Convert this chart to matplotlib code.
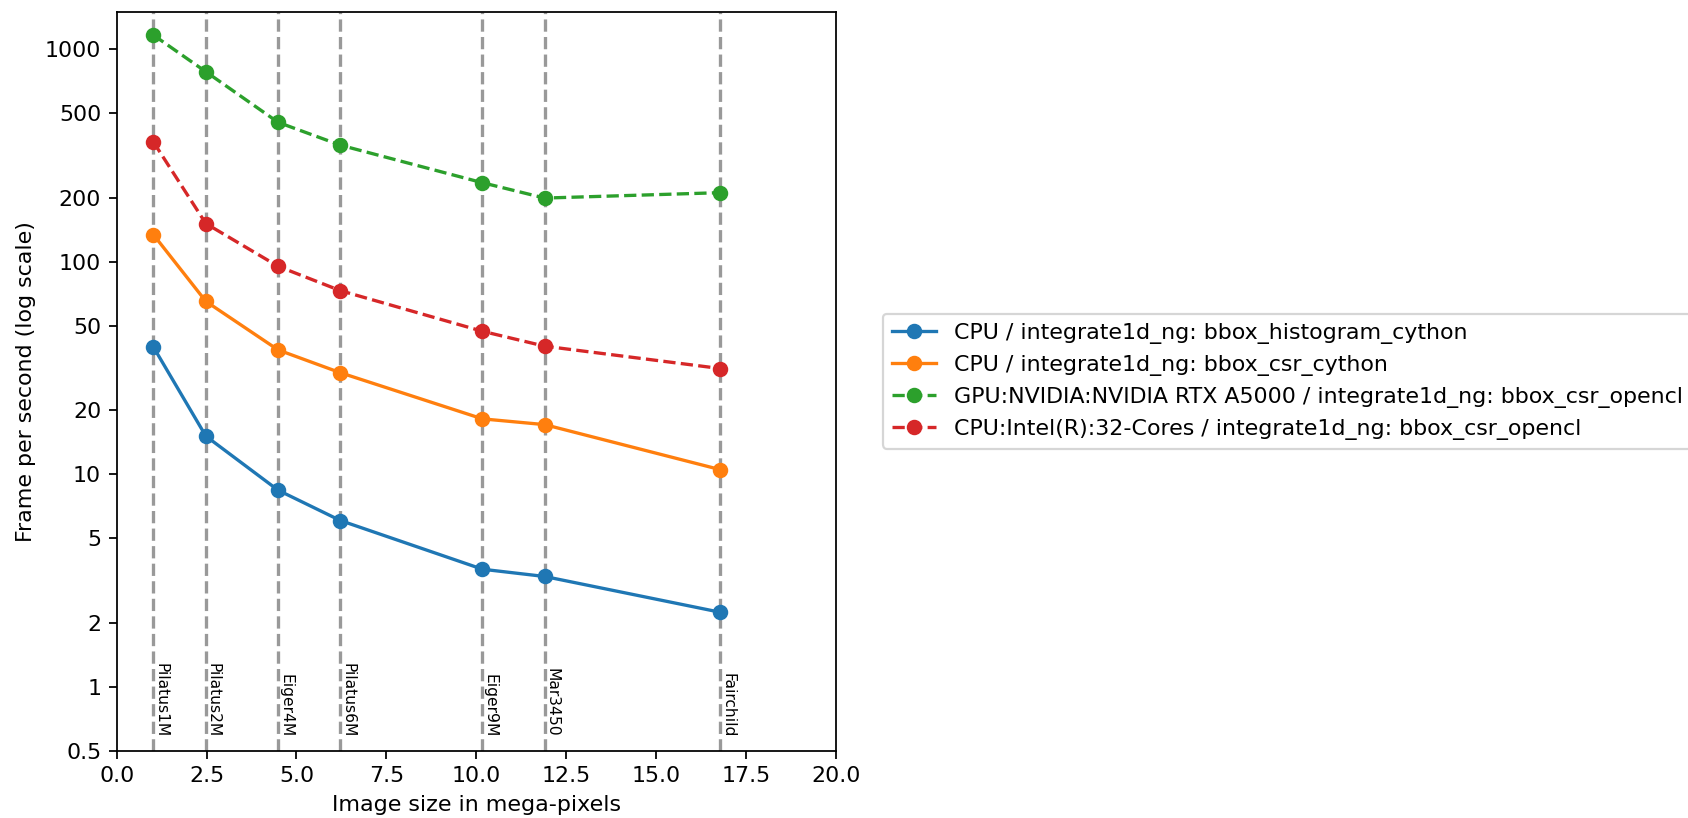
import matplotlib
matplotlib.use("Agg")
import matplotlib.pyplot as plt

# detector sizes (mega-pixels)
detectors = ["Pilatus1M", "Pilatus2M", "Eiger4M", "Pilatus6M", "Eiger9M", "Mar3450", "Fairchild"]
sizes = [1.02, 2.48, 4.49, 6.22, 10.17, 11.9, 16.78]

# frames per second
fps_hist_cython = [39.7, 15.1, 8.4, 6.05, 3.57, 3.3, 2.24]
fps_csr_cython = [134, 65, 38.4, 30, 18.2, 17.1, 10.5]
fps_gpu_opencl = [1164, 782, 452, 353, 235, 199, 211]
fps_cpu_opencl = [366, 151, 95, 73, 47, 40, 31.4]

labels = [
    "CPU / integrate1d_ng: bbox_histogram_cython",
    "CPU / integrate1d_ng: bbox_csr_cython",
    "GPU:NVIDIA:NVIDIA RTX A5000 / integrate1d_ng: bbox_csr_opencl",
    "CPU:Intel(R):32-Cores / integrate1d_ng: bbox_csr_opencl",
]

yticks = [0.5, 1, 2, 5, 10, 20, 50, 100, 200, 500, 1000]
ytick_labels = ["0.5", "1", "2", "5", "10", "20", "50", "100", "200", "500", "1000"]

DPI = 159
fig = plt.figure(figsize=(1688 / DPI, 818 / DPI), dpi=DPI)
ax = fig.add_axes([0.0691, 0.0823, 0.4262, 0.9035])

for name, s in zip(detectors, sizes):
    ax.axvline(s, color="#999999", linestyle="--", linewidth=1.5, zorder=1)
    ax.text(s, 0.58, name, rotation=270, ha="left", va="bottom", fontsize=7)

ax.plot(sizes, fps_hist_cython, "o-", color="C0", label=labels[0], zorder=3)
ax.plot(sizes, fps_csr_cython, "o-", color="C1", label=labels[1], zorder=3)
ax.plot(sizes, fps_gpu_opencl, "o--", color="C2", label=labels[2], zorder=3)
ax.plot(sizes, fps_cpu_opencl, "o--", color="C3", label=labels[3], zorder=3)

ax.set_yscale("log")
ax.set_ylim(0.5, 1500)
ax.set_xlim(0, 20)
ax.set_yticks(yticks, ytick_labels)
ax.minorticks_off()
ax.set_xlabel("Image size in mega-pixels")
ax.set_ylabel("Frame per second (log scale)")
ax.legend(loc="center left", bbox_to_anchor=(1.05, 0.5))

fig.savefig("out.png", dpi=DPI)
